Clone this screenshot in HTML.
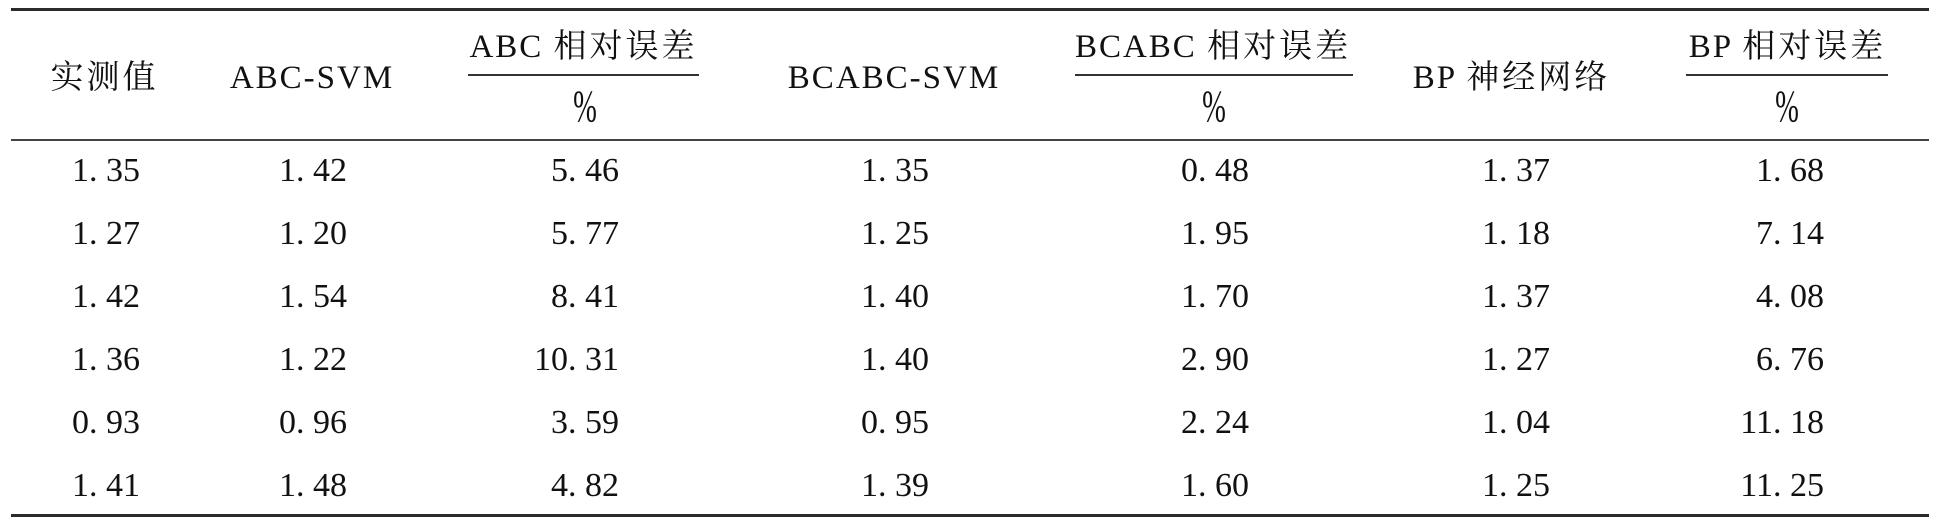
<!DOCTYPE html>
<html>
<head>
<meta charset="utf-8">
<style>
  html,body{margin:0;padding:0;background:#fff;}
  body{width:1936px;height:528px;position:relative;overflow:hidden;
       font-family:"Liberation Serif","Noto Serif CJK SC","Noto Sans CJK SC",serif;color:#111;}
  .rule{position:absolute;background:#2b2b2b;}
  .h{position:absolute;width:400px;text-align:center;font-size:33px;line-height:40px;height:40px;
     letter-spacing:2px;white-space:nowrap;}
  .h .c{letter-spacing:3px;}
  .pct{position:absolute;width:60px;text-align:center;font-size:30px;line-height:40px;height:40px;
       transform:scale(0.95,1.5);transform-origin:50% 55%;}
  .n{position:absolute;width:200px;text-align:right;font-size:34px;line-height:40px;height:40px;white-space:nowrap;}
  .n span{margin-right:8.5px;}
</style>
</head>
<body>
<!-- rules -->
<div class="rule" style="left:11px;top:8px;width:1918px;height:3px;"></div>
<div class="rule" style="left:11px;top:139px;width:1918px;height:2px;background:#444;"></div>
<div class="rule" style="left:11px;top:514px;width:1918px;height:3px;"></div>
<!-- fraction lines -->
<div class="rule" style="left:468px;top:74px;width:231px;height:2px;background:#333;"></div>
<div class="rule" style="left:1075px;top:74px;width:278px;height:2px;background:#333;"></div>
<div class="rule" style="left:1686px;top:74px;width:202px;height:2px;background:#333;"></div>

<!-- headers -->
<div class="h" style="left:-95.5px;top:58px;"><span class="c">实测值</span></div>
<div class="h" style="left:112px;top:58px;">ABC-SVM</div>
<div class="h" style="left:383.5px;top:27px;">ABC <span class="c">相对误差</span></div>
<div class="pct" style="left:554.5px;top:89px;">%</div>
<div class="h" style="left:694px;top:58px;">BCABC-SVM</div>
<div class="h" style="left:1013px;top:27px;">BCABC <span class="c">相对误差</span></div>
<div class="pct" style="left:1183.5px;top:89px;">%</div>
<div class="h" style="left:1311.5px;top:58px;">BP <span class="c">神经网络</span></div>
<div class="h" style="left:1587.5px;top:27px;">BP <span class="c">相对误差</span></div>
<div class="pct" style="left:1757px;top:89px;">%</div>

<!-- row 1 -->
<div class="n" style="left:-60px;top:151px;">1<span>.</span>35</div>
<div class="n" style="left:147px;top:151px;">1<span>.</span>42</div>
<div class="n" style="left:419px;top:151px;">5<span>.</span>46</div>
<div class="n" style="left:729px;top:151px;">1<span>.</span>35</div>
<div class="n" style="left:1049px;top:151px;">0<span>.</span>48</div>
<div class="n" style="left:1350px;top:151px;">1<span>.</span>37</div>
<div class="n" style="left:1624px;top:151px;">1<span>.</span>68</div>
<!-- row 2 -->
<div class="n" style="left:-60px;top:214px;">1<span>.</span>27</div>
<div class="n" style="left:147px;top:214px;">1<span>.</span>20</div>
<div class="n" style="left:419px;top:214px;">5<span>.</span>77</div>
<div class="n" style="left:729px;top:214px;">1<span>.</span>25</div>
<div class="n" style="left:1049px;top:214px;">1<span>.</span>95</div>
<div class="n" style="left:1350px;top:214px;">1<span>.</span>18</div>
<div class="n" style="left:1624px;top:214px;">7<span>.</span>14</div>
<!-- row 3 -->
<div class="n" style="left:-60px;top:277px;">1<span>.</span>42</div>
<div class="n" style="left:147px;top:277px;">1<span>.</span>54</div>
<div class="n" style="left:419px;top:277px;">8<span>.</span>41</div>
<div class="n" style="left:729px;top:277px;">1<span>.</span>40</div>
<div class="n" style="left:1049px;top:277px;">1<span>.</span>70</div>
<div class="n" style="left:1350px;top:277px;">1<span>.</span>37</div>
<div class="n" style="left:1624px;top:277px;">4<span>.</span>08</div>
<!-- row 4 -->
<div class="n" style="left:-60px;top:340px;">1<span>.</span>36</div>
<div class="n" style="left:147px;top:340px;">1<span>.</span>22</div>
<div class="n" style="left:419px;top:340px;">10<span>.</span>31</div>
<div class="n" style="left:729px;top:340px;">1<span>.</span>40</div>
<div class="n" style="left:1049px;top:340px;">2<span>.</span>90</div>
<div class="n" style="left:1350px;top:340px;">1<span>.</span>27</div>
<div class="n" style="left:1624px;top:340px;">6<span>.</span>76</div>
<!-- row 5 -->
<div class="n" style="left:-60px;top:403px;">0<span>.</span>93</div>
<div class="n" style="left:147px;top:403px;">0<span>.</span>96</div>
<div class="n" style="left:419px;top:403px;">3<span>.</span>59</div>
<div class="n" style="left:729px;top:403px;">0<span>.</span>95</div>
<div class="n" style="left:1049px;top:403px;">2<span>.</span>24</div>
<div class="n" style="left:1350px;top:403px;">1<span>.</span>04</div>
<div class="n" style="left:1624px;top:403px;">11<span>.</span>18</div>
<!-- row 6 -->
<div class="n" style="left:-60px;top:466px;">1<span>.</span>41</div>
<div class="n" style="left:147px;top:466px;">1<span>.</span>48</div>
<div class="n" style="left:419px;top:466px;">4<span>.</span>82</div>
<div class="n" style="left:729px;top:466px;">1<span>.</span>39</div>
<div class="n" style="left:1049px;top:466px;">1<span>.</span>60</div>
<div class="n" style="left:1350px;top:466px;">1<span>.</span>25</div>
<div class="n" style="left:1624px;top:466px;">11<span>.</span>25</div>
</body>
</html>
